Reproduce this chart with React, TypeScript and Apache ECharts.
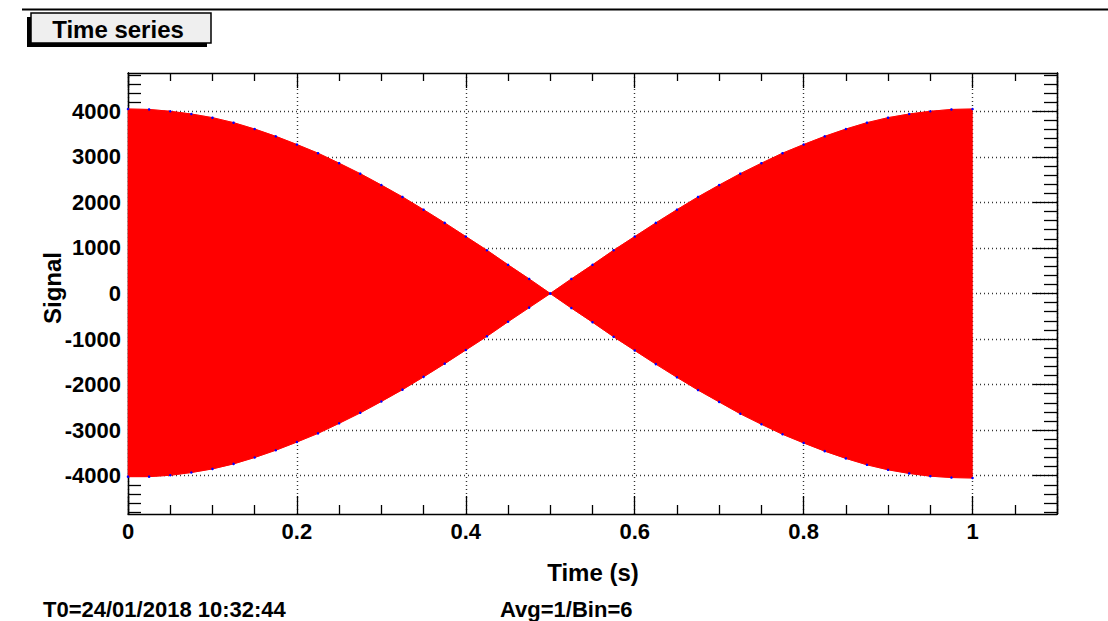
import React, { useEffect, useRef } from "react";
import * as echarts from "echarts";

const times = [
  0, 0.025, 0.05, 0.075, 0.1, 0.125, 0.15, 0.175, 0.2, 0.225, 0.25, 0.275, 0.3, 0.325, 0.35, 0.375, 0.4,
  0.425, 0.45, 0.475, 0.5, 0.525, 0.55, 0.575, 0.6, 0.625, 0.65, 0.675, 0.7, 0.725, 0.75, 0.775, 0.8,
  0.825, 0.85, 0.875, 0.9, 0.925, 0.95, 0.975, 1,
];
const upperEnvelope = [
  4050, 4040, 4000, 3940, 3860, 3750, 3610, 3450, 3270, 3080, 2860, 2630, 2380, 2120, 1840, 1550, 1250,
  950, 630, 320, 0, 320, 630, 950, 1250, 1550, 1840, 2120, 2380, 2630, 2860, 3080, 3270, 3450, 3610,
  3750, 3860, 3940, 4000, 4040, 4050,
];
const lowerEnvelope = [
  -4020, -4020, -3990, -3930, -3850, -3740, -3600, -3440, -3260, -3070, -2850, -2620, -2370, -2110, -1830,
  -1540, -1240, -940, -620, -310, 0, -320, -630, -950, -1250, -1550, -1840, -2120, -2380, -2640, -2870,
  -3090, -3280, -3460, -3620, -3760, -3870, -3950, -4010, -4040, -4050,
];
const xTickLabels = ["0", "0.2", "0.4", "0.6", "0.8", "1"];
const yMajorTicks = [-4000, -3000, -2000, -1000, 0, 1000, 2000, 3000, 4000];
const yMinorTicks = [
  -4800, -4600, -4400, -4200, -3800, -3600, -3400, -3200, -2800, -2600, -2400, -2200, -1800, -1600, -1400,
  -1200, -800, -600, -400, -200, 200, 400, 600, 800, 1200, 1400, 1600, 1800, 2200, 2400, 2600, 2800, 3200,
  3400, 3600, 3800, 4200, 4400, 4600, 4800,
];
const yMin = -4840;
const yMax = 4840;

const FONT = "'Liberation Sans', Arial, Helvetica, sans-serif";

export default function App() {
  const ref = useRef<HTMLDivElement>(null);
  useEffect(() => {
    if (!ref.current) return;
    const chart = echarts.init(ref.current, null, { renderer: "svg" });
    const upper = times.map((t, i) => [t, upperEnvelope[i]]);
    const lower = times.map((t, i) => [t, lowerEnvelope[i]]);
    const xLabelSet = new Set(xTickLabels);
    const axisLineStyle = { color: "#000", width: 1.3 };
    const tickLine = { color: "#000", width: 1.3 };
    const gridLine = { color: "#333", type: [1, 3], width: 1.4 };
    const yAxisBase = (position: string, ticks: number[], length: number, labels: boolean, split: boolean) => ({
      type: "value",
      min: yMin,
      max: yMax,
      position,
      axisLine: { show: true, onZero: false, lineStyle: axisLineStyle },
      axisTick: { show: true, inside: true, length, customValues: ticks, lineStyle: tickLine },
      minorTick: { show: false },
      axisLabel: labels
        ? {
            show: true,
            customValues: ticks,
            margin: 7,
            color: "#000",
            fontFamily: FONT,
            fontWeight: "bold",
            fontSize: 22,
            formatter: (v: number) => String(Math.round(v)),
          }
        : { show: false },
      splitLine: { show: split, lineStyle: gridLine },
    });
    const option: any = {
      animation: false,
      backgroundColor: "#fff",
      grid: { left: 128, top: 73, right: 51, bottom: 107, containLabel: false },
      xAxis: [
        {
          type: "value",
          min: 0,
          max: 1.1,
          interval: 0.2,
          position: "bottom",
          axisLine: { show: true, onZero: false, lineStyle: axisLineStyle },
          axisTick: { show: true, inside: true, length: 18, lineStyle: tickLine },
          minorTick: { show: true, splitNumber: 4, length: 9, lineStyle: tickLine },
          axisLabel: {
            margin: 6,
            color: "#000",
            fontFamily: FONT,
            fontWeight: "bold",
            fontSize: 22,
            formatter: (v: number) => {
              const s = String(Math.round(v * 10) / 10);
              return xLabelSet.has(s) ? s : "";
            },
          },
          splitLine: { show: true, lineStyle: gridLine },
        },
        {
          type: "value",
          min: 0,
          max: 1.1,
          interval: 0.2,
          position: "top",
          axisLine: { show: true, onZero: false, lineStyle: axisLineStyle },
          axisTick: { show: true, inside: true, length: 15, lineStyle: tickLine },
          minorTick: { show: true, splitNumber: 4, length: 8, lineStyle: tickLine },
          axisLabel: { show: false },
          splitLine: { show: false },
        },
      ],
      yAxis: [
        yAxisBase("left", yMajorTicks, 24, true, true),
        yAxisBase("left", yMinorTicks, 13, false, false),
        yAxisBase("right", yMajorTicks, 24, false, false),
        yAxisBase("right", yMinorTicks, 13, false, false),
      ],
      series: [
        {
          type: "custom",
          xAxisIndex: 0,
          yAxisIndex: 0,
          data: [[0, 0]],
          z: 2,
          silent: true,
          renderItem: (params: any, api: any) => {
            const top = upper.map((p) => api.coord(p));
            const bottom = lower.map((p) => api.coord(p)).reverse();
            return {
              type: "polygon",
              shape: { points: top.concat(bottom) },
              style: { fill: "#ff0000", stroke: "#ff0000", lineWidth: 0.5 },
            };
          },
        },
        {
          type: "line",
          data: upper,
          xAxisIndex: 0,
          yAxisIndex: 0,
          showSymbol: true,
          symbol: "circle",
          symbolSize: 2.5,
          itemStyle: { color: "#0000ff" },
          lineStyle: { color: "#ff0000", width: 1 },
          z: 3,
        },
        {
          type: "line",
          data: lower,
          xAxisIndex: 0,
          yAxisIndex: 0,
          showSymbol: true,
          symbol: "circle",
          symbolSize: 2.5,
          itemStyle: { color: "#0000ff" },
          lineStyle: { color: "#ff0000", width: 1 },
          z: 3,
        },
      ],
      graphic: [
        { type: "line", shape: { x1: 22, y1: 9.5, x2: 1108, y2: 9.5 }, style: { stroke: "#000", lineWidth: 2 } },
        { type: "rect", shape: { x: 27, y: 17, width: 180, height: 30 }, style: { fill: "#000" } },
        { type: "rect", shape: { x: 31, y: 13, width: 180, height: 30 }, style: { fill: "#efefef", stroke: "#000", lineWidth: 1.5 } },
        {
          type: "text",
          x: 118,
          y: 29,
          style: { text: "Time series", font: `bold 24px ${FONT}`, fill: "#000", align: "center", verticalAlign: "middle" },
        },
        {
          type: "text",
          x: 593,
          y: 572,
          style: { text: "Time (s)", font: `bold 24px ${FONT}`, fill: "#000", align: "center", verticalAlign: "middle" },
        },
        {
          type: "text",
          x: 52,
          y: 288,
          rotation: Math.PI / 2,
          style: { text: "Signal", font: `bold 24px ${FONT}`, fill: "#000", align: "center", verticalAlign: "middle" },
        },
        {
          type: "text",
          x: 43,
          y: 609,
          style: { text: "T0=24/01/2018 10:32:44", font: `bold 22px ${FONT}`, fill: "#000", align: "left", verticalAlign: "middle" },
        },
        {
          type: "text",
          x: 500,
          y: 609,
          style: { text: "Avg=1/Bin=6", font: `bold 22px ${FONT}`, fill: "#000", align: "left", verticalAlign: "middle" },
        },
      ],
    };
    chart.setOption(option);
    return () => chart.dispose();
  }, []);
  return <div ref={ref} style={{ position: "absolute", left: 0, top: 0, width: 1108, height: 621 }} />;
}
